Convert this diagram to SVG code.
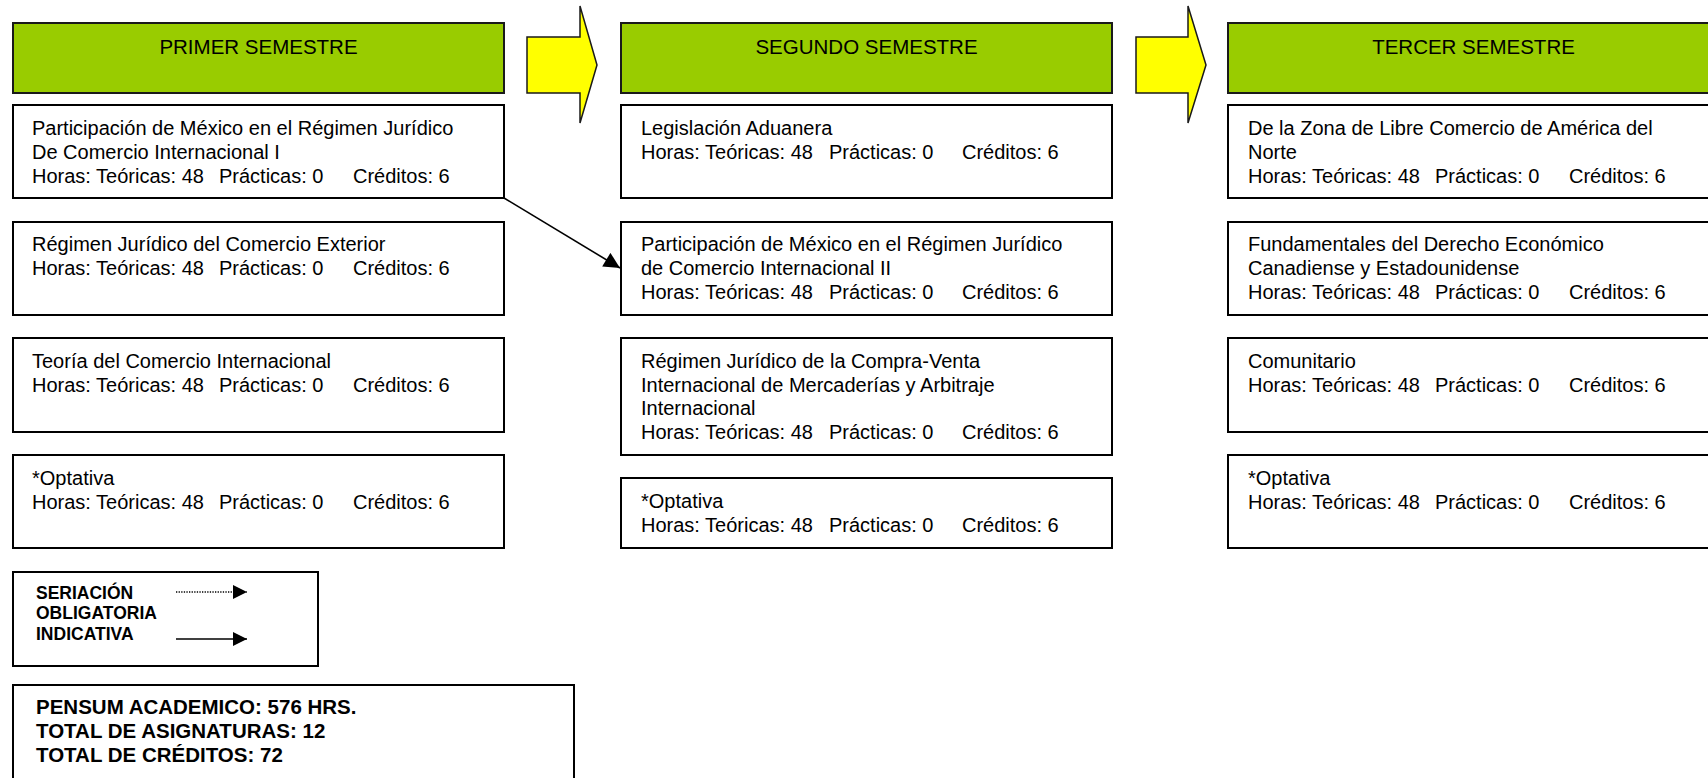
<svg xmlns="http://www.w3.org/2000/svg" width="1708" height="778" viewBox="0 0 1708 778">
<style>
  .hdr { fill: #99CC00; stroke: #1a1a1a; stroke-width: 2; }
  .box { fill: #ffffff; stroke: #000000; stroke-width: 2; }
  .yarrow { fill: #FFFF00; stroke: #1a1a1a; stroke-width: 1.5; stroke-linejoin: miter; }
  text { font-family: "Liberation Sans", Arial, sans-serif; fill: #000; white-space: pre; }
  .ht { font-size: 20.5px; text-anchor: middle; }
  .bt { font-size: 20px; }
  .lg { font-size: 17.5px; font-weight: bold; }
  .sm { font-size: 20.5px; font-weight: bold; }
  .conn { stroke: #000; stroke-width: 1.6; fill: none; }
</style>
<defs>
  <marker id="ahL" viewBox="0 0 10 10" refX="10" refY="5" markerWidth="15" markerHeight="14" markerUnits="userSpaceOnUse" orient="auto">
    <path d="M0,0 L10,5 L0,10 z" fill="#000"/>
  </marker>
  <marker id="ahC" viewBox="0 0 10 10" refX="10" refY="5" markerWidth="17" markerHeight="16" markerUnits="userSpaceOnUse" orient="auto">
    <path d="M0,0 L10,5 L0,10 z" fill="#000"/>
  </marker>
</defs>

<!-- Column headers -->
<g id="hdr1"><rect class="hdr" x="13" y="23" width="491" height="70"/><text class="ht" x="258.5" y="54">PRIMER SEMESTRE</text></g>
<g id="hdr2"><rect class="hdr" x="621" y="23" width="491" height="70"/><text class="ht" x="866.5" y="54">SEGUNDO SEMESTRE</text></g>
<g id="hdr3"><rect class="hdr" x="1228" y="23" width="500" height="70"/><text class="ht" x="1473.5" y="54">TERCER SEMESTRE</text></g>

<!-- Yellow arrows -->
<g id="yarrow1"><path class="yarrow" d="M527,37 L580,37 L580,6 L597,65 L580,123 L580,93 L527,93 Z"/></g>
<g id="yarrow2"><path class="yarrow" d="M1136,37 L1188,37 L1188,6 L1206,65 L1188,123 L1188,93 L1136,93 Z"/></g>

<!-- Column 1 -->
<g id="c1b1"><rect class="box" x="13" y="105" width="491" height="93"/>
<text class="bt" x="32" y="135">Participación de México en el Régimen Jurídico</text>
<text class="bt" x="32" y="159">De Comercio Internacional I</text>
<text class="bt" y="183"><tspan x="32">Horas: Teóricas: 48</tspan><tspan x="219">Prácticas: 0</tspan><tspan x="353">Créditos: 6</tspan></text></g>
<g id="c1b2"><rect class="box" x="13" y="222" width="491" height="93"/>
<text class="bt" x="32" y="251">Régimen Jurídico del Comercio Exterior</text>
<text class="bt" y="275"><tspan x="32">Horas: Teóricas: 48</tspan><tspan x="219">Prácticas: 0</tspan><tspan x="353">Créditos: 6</tspan></text></g>
<g id="c1b3"><rect class="box" x="13" y="338" width="491" height="94"/>
<text class="bt" x="32" y="368">Teoría del Comercio Internacional</text>
<text class="bt" y="392"><tspan x="32">Horas: Teóricas: 48</tspan><tspan x="219">Prácticas: 0</tspan><tspan x="353">Créditos: 6</tspan></text></g>
<g id="c1b4"><rect class="box" x="13" y="455" width="491" height="93"/>
<text class="bt" x="32" y="485">*Optativa</text>
<text class="bt" y="509"><tspan x="32">Horas: Teóricas: 48</tspan><tspan x="219">Prácticas: 0</tspan><tspan x="353">Créditos: 6</tspan></text></g>

<!-- Column 2 -->
<g id="c2b1"><rect class="box" x="621" y="105" width="491" height="93"/>
<text class="bt" x="641" y="135">Legislación Aduanera</text>
<text class="bt" y="159"><tspan x="641">Horas: Teóricas: 48</tspan><tspan x="829">Prácticas: 0</tspan><tspan x="962">Créditos: 6</tspan></text></g>
<g id="c2b2"><rect class="box" x="621" y="222" width="491" height="93"/>
<text class="bt" x="641" y="251">Participación de México en el Régimen Jurídico</text>
<text class="bt" x="641" y="275">de Comercio Internacional II</text>
<text class="bt" y="299"><tspan x="641">Horas: Teóricas: 48</tspan><tspan x="829">Prácticas: 0</tspan><tspan x="962">Créditos: 6</tspan></text></g>
<g id="c2b3"><rect class="box" x="621" y="338" width="491" height="117"/>
<text class="bt" x="641" y="368">Régimen Jurídico de la Compra-Venta</text>
<text class="bt" x="641" y="392">Internacional de Mercaderías y Arbitraje</text>
<text class="bt" x="641" y="415">Internacional</text>
<text class="bt" y="439"><tspan x="641">Horas: Teóricas: 48</tspan><tspan x="829">Prácticas: 0</tspan><tspan x="962">Créditos: 6</tspan></text></g>
<g id="c2b4"><rect class="box" x="621" y="478" width="491" height="70"/>
<text class="bt" x="641" y="508">*Optativa</text>
<text class="bt" y="532"><tspan x="641">Horas: Teóricas: 48</tspan><tspan x="829">Prácticas: 0</tspan><tspan x="962">Créditos: 6</tspan></text></g>

<!-- Column 3 -->
<g id="c3b1"><rect class="box" x="1228" y="105" width="500" height="93"/>
<text class="bt" x="1248" y="135">De la Zona de Libre Comercio de América del</text>
<text class="bt" x="1248" y="159">Norte</text>
<text class="bt" y="183"><tspan x="1248">Horas: Teóricas: 48</tspan><tspan x="1435">Prácticas: 0</tspan><tspan x="1569">Créditos: 6</tspan></text></g>
<g id="c3b2"><rect class="box" x="1228" y="222" width="500" height="93"/>
<text class="bt" x="1248" y="251">Fundamentales del Derecho Económico</text>
<text class="bt" x="1248" y="275">Canadiense y Estadounidense</text>
<text class="bt" y="299"><tspan x="1248">Horas: Teóricas: 48</tspan><tspan x="1435">Prácticas: 0</tspan><tspan x="1569">Créditos: 6</tspan></text></g>
<g id="c3b3"><rect class="box" x="1228" y="338" width="500" height="94"/>
<text class="bt" x="1248" y="368">Comunitario</text>
<text class="bt" y="392"><tspan x="1248">Horas: Teóricas: 48</tspan><tspan x="1435">Prácticas: 0</tspan><tspan x="1569">Créditos: 6</tspan></text></g>
<g id="c3b4"><rect class="box" x="1228" y="455" width="500" height="93"/>
<text class="bt" x="1248" y="485">*Optativa</text>
<text class="bt" y="509"><tspan x="1248">Horas: Teóricas: 48</tspan><tspan x="1435">Prácticas: 0</tspan><tspan x="1569">Créditos: 6</tspan></text></g>

<!-- Legend -->
<g id="legend"><rect class="box" x="13" y="572" width="305" height="94"/>
<text class="lg" x="36" y="599">SERIACIÓN</text>
<text class="lg" x="36" y="619">OBLIGATORIA</text>
<text class="lg" x="36" y="640">INDICATIVA</text>
<line x1="176" y1="592" x2="247" y2="592" stroke="#000" stroke-width="1.3" stroke-dasharray="1.3 1.3" marker-end="url(#ahL)"/>
<line x1="176" y1="639" x2="247" y2="639" stroke="#000" stroke-width="1.6" marker-end="url(#ahL)"/>
</g>

<!-- Summary -->
<g id="summary"><rect class="box" x="13" y="685" width="561" height="110"/>
<text class="sm" x="36" y="714">PENSUM ACADEMICO: 576 HRS.</text>
<text class="sm" x="36" y="738">TOTAL DE ASIGNATURAS: 12</text>
<text class="sm" x="36" y="762">TOTAL DE CRÉDITOS: 72</text>
</g>

<!-- Connectors -->
<g id="connectors">
<line class="conn" x1="504" y1="198" x2="620" y2="268" marker-end="url(#ahC)"/>
</g>
</svg>
